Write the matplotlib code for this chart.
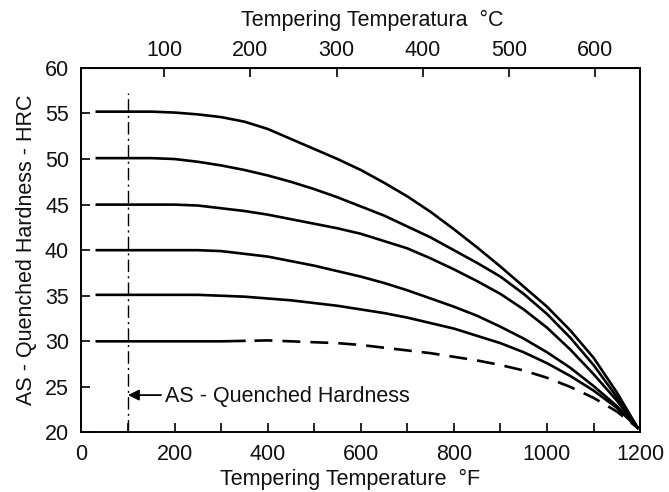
import matplotlib
matplotlib.use("Agg")
import numpy as np
import matplotlib.pyplot as plt

plt.rcParams['font.family'] = ['Liberation Sans', 'DejaVu Sans']

# tempering temperature (F) where the curves were read
temps_f = [33, 50, 100, 150, 200, 250, 300, 350, 400, 450, 500, 550, 600, 650,
           700, 750, 800, 850, 900, 950, 1000, 1050, 1100, 1150, 1195]

# hardness (HRC) for each as-quenched level
hrc_55 = [55.2, 55.2, 55.2, 55.2, 55.1, 54.9, 54.6, 54.1, 53.3, 52.2, 51.1, 50.0,
          48.8, 47.4, 45.9, 44.2, 42.3, 40.3, 38.2, 36.0, 33.8, 31.2, 28.2, 24.4, 20.5]
hrc_50 = [50.1, 50.1, 50.1, 50.1, 50.0, 49.7, 49.3, 48.8, 48.2, 47.5, 46.7, 45.8,
          44.8, 43.8, 42.6, 41.4, 40.0, 38.6, 37.1, 35.2, 33.0, 30.4, 27.4, 23.9, 20.5]
hrc_45 = [45.0, 45.0, 45.0, 45.0, 45.0, 44.9, 44.6, 44.3, 43.9, 43.4, 42.9, 42.4,
          41.8, 41.0, 40.2, 39.1, 37.9, 36.6, 35.2, 33.5, 31.5, 29.1, 26.4, 23.5, 20.5]
hrc_40 = [40.0, 40.0, 40.0, 40.0, 40.0, 40.0, 39.9, 39.6, 39.3, 38.8, 38.3, 37.7,
          37.1, 36.4, 35.6, 34.7, 33.8, 32.8, 31.6, 30.3, 28.8, 27.1, 25.1, 22.9, 20.5]
hrc_35 = [35.1, 35.1, 35.1, 35.1, 35.1, 35.1, 35.0, 34.9, 34.7, 34.5, 34.2, 33.9,
          33.5, 33.1, 32.6, 32.0, 31.4, 30.6, 29.8, 28.8, 27.6, 26.2, 24.6, 22.7, 20.5]
hrc_30 = [30.0, 30.0, 30.0, 30.0, 30.0, 30.0, 30.0, 30.05, 30.1, 30.0, 29.9, 29.8,
          29.6, 29.3, 29.0, 28.7, 28.3, 27.9, 27.4, 26.8, 26.0, 25.0, 23.8, 22.3, 20.5]
solid_curves = [hrc_55, hrc_50, hrc_45, hrc_40, hrc_35]

# the 30 HRC curve is only solid up to here, dashed afterwards
dash_from_f = 350
# as-quenched marker line
quench_f = 100
quench_top = 57.2

fig = plt.figure(figsize=(6.69, 4.92), dpi=100)
ax = fig.add_axes([0.1218, 0.121, 0.835, 0.741])

t = np.array(temps_f)
for h in solid_curves:
    ax.plot(t, h, color='black', lw=1.9)

h30 = np.array(hrc_30)
ax.plot(t[t <= dash_from_f], h30[t <= dash_from_f], color='black', lw=1.9)
ax.plot(t[t >= dash_from_f], h30[t >= dash_from_f], color='black', lw=1.9,
        linestyle=(6.8, (6.8, 3.8)))

ax.plot([quench_f, quench_f], [20, quench_top], color='black', lw=1.0,
        dashes=(9, 3, 1.5, 3))

# arrow + label for the as-quenched line
ax.annotate('', xy=(quench_f, 24.1), xytext=(171, 24.1),
            arrowprops=dict(arrowstyle='-|>', color='black', lw=1.3,
                            mutation_scale=16, shrinkA=0, shrinkB=0))
ax.text(179, 23.9, 'AS - Quenched Hardness', fontsize=15.5, va='center',
        ha='left', color='#111111')

ax.set_xlim(0, 1200)
ax.set_ylim(20, 60)
ax.set_xticks(range(0, 1201, 200))
ax.set_xticks(range(100, 1200, 200), minor=True)
ax.set_yticks(range(20, 61, 5))
ax.tick_params(axis='both', which='both', direction='in', length=6.5,
               width=1.2, labelsize=15.5, colors='black', labelcolor='#111111')
ax.tick_params(axis='x', pad=8)
ax.tick_params(axis='y', pad=9, right=False)
for s in ax.spines.values():
    s.set_linewidth(1.4)

ax.set_xlabel('Tempering Temperature  °F', fontsize=15.5, color='#111111', labelpad=3)
ax.xaxis.label.set_x(0.481)
ax.set_ylabel('AS - Quenched Hardness - HRC', fontsize=15.5, color='#111111', labelpad=6)

sec = ax.secondary_xaxis('top', functions=(lambda f: (f + 7) / 1.85,
                                           lambda c: c * 1.85 - 7))
sec.set_xticks([100, 200, 300, 400, 500, 600])
sec.tick_params(direction='in', length=6.5, width=1.2, labelsize=15.5,
                labelcolor='#111111', pad=5)
sec.set_xlabel('Tempering Temperatura  °C', fontsize=15.5, color='#111111', labelpad=10)
sec.xaxis.label.set_x(0.52)

fig.savefig('out.png', dpi=100)
